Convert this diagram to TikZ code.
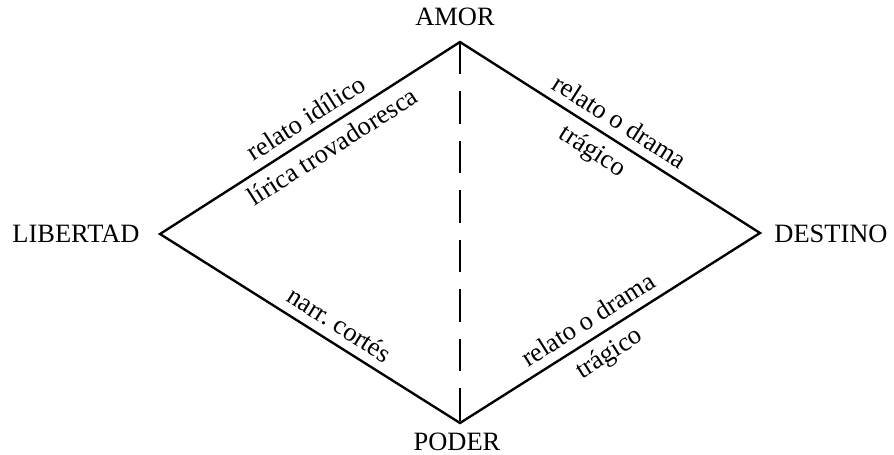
\documentclass[tikz,border=0pt]{standalone}
\usepackage{fontspec}
\setmainfont{Liberation Serif}
\begin{document}
\begin{tikzpicture}
	[x=0.01634cm, y=-0.01634cm, font=\fontsize{12.3}{14}\selectfont,
	side/.style={line width=1.1pt, line join=miter},
	axis/.style={line width=0.9pt, dash pattern=on 15pt off 8pt},
	corner/.style={anchor=base, inner sep=0},
	up/.style={sloped, anchor=south, inner sep=4pt},
	down/.style={sloped, anchor=north, inner sep=4pt}]
	\useasboundingbox (0,0) rectangle (894,454);
	\coordinate (amor) at (460,42);
	\coordinate (libertad) at (160,234);
	\coordinate (destino) at (760,233);
	\coordinate (poder) at (460,423);
	\node[corner] (amorlbl) at (455,25) {AMOR};
	\node[corner] (libertadlbl) at (76,242) {LIBERTAD};
	\node[corner] (destinolbl) at (831,242) {DESTINO};
	\node[corner] (poderlbl) at (457,450) {PODER};
	% eje vertical
	\draw[axis] (amor) -- (poder);
	% rombo
	\draw[side] (libertad) -- (amor)
		node[up, pos=0.52] (idilico) {relato idílico}
		node[down, pos=0.54] (lirica) {lírica trovadoresca}
		-- (destino)
		node[up, pos=0.50] (dramaA) {relato o drama}
		node[down, pos=0.48] (tragicoA) {trágico}
		-- (poder)
		node[up, pos=0.54] (dramaB) {relato o drama}
		node[down, pos=0.54] (tragicoB) {trágico}
		-- cycle
		node[up, pos=0.435] (cortes) {narr.\ cortés};
\end{tikzpicture}
\end{document}
